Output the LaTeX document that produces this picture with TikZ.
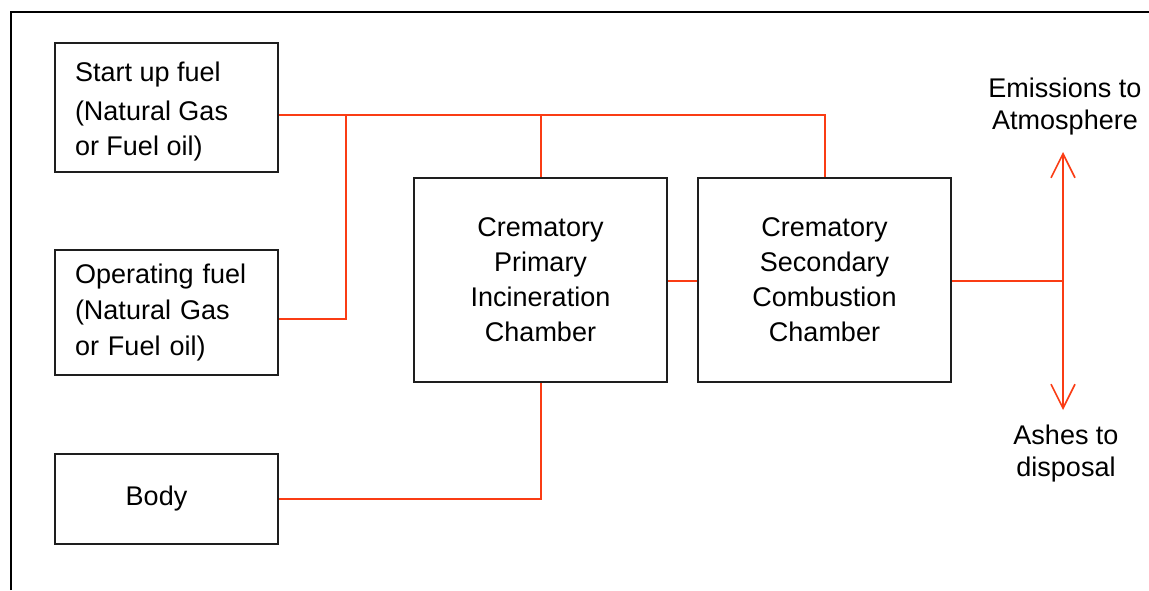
\documentclass[tikz,border=0pt]{standalone}
\usepackage{fontspec}
\setmainfont{Liberation Sans}
\usetikzlibrary{arrows.meta}
\definecolor{flow}{RGB}{250,60,20}
\definecolor{boxline}{RGB}{30,30,30}
\begin{document}
\begin{tikzpicture}[x=1pt,y=-1pt,
  box/.style={draw=boxline,line width=2pt,inner sep=0pt,font=\fontsize{27}{35}\selectfont},
  leftbox/.style={box,minimum width=223pt,text width=183pt,align=left},
  chamber/.style={box,minimum width=253pt,minimum height=204pt,align=center},
  flowline/.style={draw=flow,line width=2pt},
  tip/.style={-{Straight Barb[length=24pt,width=24pt,line width=1.6pt]}},
  lbl/.style={align=center,inner sep=0pt,font=\fontsize{27}{32}\selectfont}]
\useasboundingbox (0,0) rectangle (1149,590);
\draw[line width=2pt] (11,590) -- (11,12) -- (1149,12);
% boxes
\node[box,minimum width=223pt,minimum height=129pt] (start) at (166.5,107.5)
  {\raisebox{-4pt}[\height][\depth]{\parbox[c]{183pt}{\raggedright\fontsize{27}{35}\selectfont Start up fuel\\[4pt](Natural Gas\\or Fuel oil)}}};
\node[leftbox,minimum height=125pt,font=\fontsize{27}{36}\selectfont] (oper) at (166.5,312.5) {Operating fuel\\(Natural Gas\\or Fuel oil)};
\node[box,minimum width=223pt,minimum height=90pt] (body) at (166.5,499) {Body\hspace*{20pt}};
\node[chamber] (prim) at (540.5,280) {Crematory\\Primary\\Incineration\\Chamber};
\node[chamber] (sec) at (824.5,280) {Crematory\\Secondary\\Combustion\\Chamber};
\node[lbl] (emis) at (1065,107) {Emissions to\\Atmosphere};
\node[lbl] (ash) at (1066,454) {Ashes to\\disposal};
% junctions
\coordinate (j1) at (346,115);
\coordinate (j2) at (346,319);
\coordinate (hub) at (1063,281);
\coordinate (up) at (1063,152);
\coordinate (down) at (1063,410);
% connectors
\draw[flowline] (start.east |- j1) -- (sec.north |- j1) -- (sec.north);
\draw[flowline] (prim.north |- j1) -- (prim.north);
\draw[flowline] (j1) -- (j2) -- (oper.east |- j2);
\draw[flowline] (prim.east |- hub) -- (sec.west |- hub);
\draw[flowline] (body.east) -- (prim.south |- body.east) -- (prim.south);
\draw[flowline] (sec.east |- hub) -- (hub);
\draw[flowline,tip] (hub) -- (up);
\draw[flowline,tip] (hub) -- (down);
\end{tikzpicture}
\end{document}
